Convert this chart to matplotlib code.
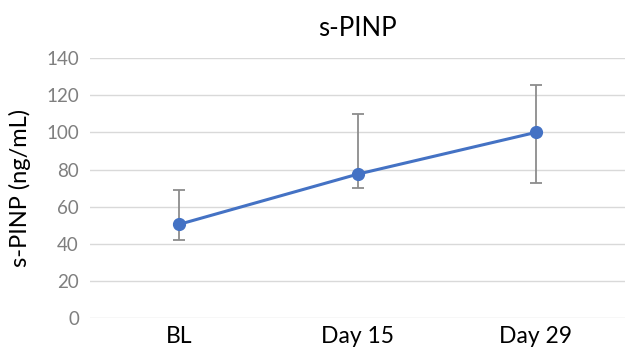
import matplotlib.pyplot as plt
import numpy as np

plt.rcParams['font.family'] = ['Lato', 'DejaVu Sans']

# data
categories = ["BL", "Day 15", "Day 29"]
means = [50.5, 77.5, 100.0]
err_low = [42.0, 70.0, 73.0]
err_high = [69.0, 109.7, 125.5]

x = np.arange(len(categories))
lower = np.array(means) - np.array(err_low)
upper = np.array(err_high) - np.array(means)

fig = plt.figure(figsize=(6.25, 3.5), dpi=100)
ax = fig.add_axes([0.144, 0.091, 0.856, 0.743])

ax.errorbar(x, means, yerr=[lower, upper], fmt='none', ecolor='#8c8c8c',
            elinewidth=1.3, capsize=4.5, capthick=1.3, zorder=2)
ax.plot(x, means, color='#4472C4', linewidth=2.2, marker='o', markersize=8.5, zorder=3)

ax.set_xlim(-0.5, 2.5)
ax.set_ylim(0, 140)
ax.set_yticks(range(0, 141, 20))
ax.set_xticks(x)
ax.set_xticklabels(categories, fontsize=16.5, color='black')
ax.tick_params(axis='y', labelsize=13.5, labelcolor='#7f7f7f', length=0, pad=8)
ax.tick_params(axis='x', length=0, pad=6)
ax.grid(axis='y', color='#d9d9d9', linewidth=1)
ax.set_axisbelow(True)
for s in ax.spines.values():
    s.set_visible(False)

ax.set_ylabel("s-PINP (ng/mL)", fontsize=17, color='black', labelpad=11)
fig.text(0.572, 0.92, "s-PINP", fontsize=18.5, ha='center', va='center')

fig.savefig("out.png", dpi=100)
